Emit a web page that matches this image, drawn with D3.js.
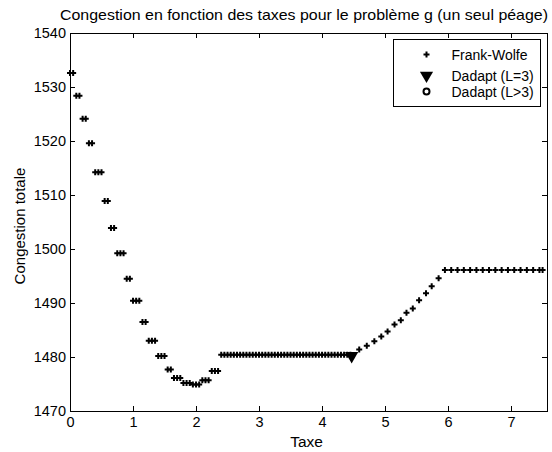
<!DOCTYPE html>
<html>
<head>
<meta charset="utf-8">
<script src="https://cdn.jsdelivr.net/npm/d3@7"></script>
<style>
  body { margin: 0; background: #fff; }
  svg { display: block; font-family: "Liberation Sans", Arial, sans-serif; }
  .axis path, .axis line { stroke: #000; stroke-width: 1; shape-rendering: crispEdges; }
  .axis text { fill: #000; font-size: 14.5px; }
</style>
</head>
<body>
<div id="chart"></div>
<script>
// Frank-Wolfe: taxe / congestion totale
const fwTax = [
    0.00, 0.05, 0.10, 0.15, 0.20, 0.25, 0.30, 0.35, 0.40, 0.45, 0.50,
    0.55, 0.60, 0.65, 0.70, 0.75, 0.80, 0.85, 0.90, 0.95, 1.00, 1.05, 1.10,
    1.15, 1.20, 1.25, 1.30, 1.35, 1.40, 1.45, 1.50, 1.55, 1.60, 1.65, 1.70, 1.75,
    1.80, 1.85, 1.90, 1.95, 2.00, 2.05, 2.10, 2.15, 2.20, 2.25, 2.30, 2.35,
    2.40, 2.45, 2.50, 2.55, 2.60, 2.65, 2.70, 2.75, 2.80, 2.85, 2.90, 2.95,
    3.00, 3.05, 3.10, 3.15, 3.20, 3.25, 3.30, 3.35, 3.40, 3.45, 3.50, 3.55,
    3.60, 3.65, 3.70, 3.75, 3.80, 3.85, 3.90, 3.95, 4.00, 4.05, 4.10, 4.15,
    4.20, 4.25, 4.30, 4.35, 4.40, 4.45,
    4.59, 4.71, 4.83, 4.94, 5.04, 5.15, 5.25, 5.34, 5.44, 5.54, 5.65, 5.74, 5.85,
    5.95, 6.05, 6.15, 6.25, 6.35, 6.45, 6.55, 6.65, 6.75, 6.85, 6.95, 7.05,
    7.15, 7.25, 7.35, 7.45, 7.50
];
const fwCongestion = [
    1532.6, 1532.6, 1528.4, 1528.4, 1524.1, 1524.1, 1519.6, 1519.6, 1514.2, 1514.2, 1514.2,
    1508.9, 1508.9, 1503.9, 1503.9, 1499.2, 1499.2, 1499.2, 1494.5, 1494.5, 1490.4, 1490.4, 1490.4,
    1486.5, 1486.5, 1483.0, 1483.0, 1483.0, 1480.2, 1480.2, 1480.2, 1477.7, 1477.7, 1476.1, 1476.1, 1476.1,
    1475.2, 1475.2, 1475.2, 1474.9, 1474.9, 1474.9, 1475.7, 1475.7, 1475.7, 1477.4, 1477.4, 1477.4,
    1480.4, 1480.4, 1480.4, 1480.4, 1480.4, 1480.4, 1480.4, 1480.4, 1480.4, 1480.4, 1480.4, 1480.4,
    1480.4, 1480.4, 1480.4, 1480.4, 1480.4, 1480.4, 1480.4, 1480.4, 1480.4, 1480.4, 1480.4, 1480.4,
    1480.4, 1480.4, 1480.4, 1480.4, 1480.4, 1480.4, 1480.4, 1480.4, 1480.4, 1480.4, 1480.4, 1480.4,
    1480.4, 1480.4, 1480.4, 1480.4, 1480.4, 1480.4,
    1481.4, 1482.1, 1482.9, 1483.8, 1484.7, 1486.0, 1486.8, 1488.2, 1489.0, 1490.5, 1491.8, 1493.1, 1494.6,
    1496.1, 1496.1, 1496.1, 1496.1, 1496.1, 1496.1, 1496.1, 1496.1, 1496.1, 1496.1, 1496.1, 1496.1,
    1496.1, 1496.1, 1496.1, 1496.1, 1496.1
];
// Dadapt (L=3)
const dadapt3Tax = [4.47];
const dadapt3Congestion = [1480.2];
// Dadapt (L>3): nothing visible on the figure
const dadaptMoreTax = [];
const dadaptMoreCongestion = [];

const xTicks = [0, 1, 2, 3, 4, 5, 6, 7];
const yTicks = [1470, 1480, 1490, 1500, 1510, 1520, 1530, 1540];
const legendLabels = ['Frank-Wolfe', 'Dadapt (L=3)', 'Dadapt (L>3)'];

const outerWidth = 552;
const outerHeight = 452;
const margin = { top: 33, left: 70, bottom: 41, right: 5 };
const innerWidth = outerWidth - margin.left - margin.right;
const innerHeight = outerHeight - margin.top - margin.bottom;

const xScale = d3.scaleLinear()
    .domain([0, 7.57])
    .range([0, innerWidth]);

const yScale = d3.scaleLinear()
    .domain([1470, 1540])
    .range([innerHeight, 0]);

const root = d3.select('#chart')
    .append('svg')
        .attr('width', outerWidth)
        .attr('height', outerHeight);

root.append('text')
    .attr('x', 304)
    .attr('y', 20)
    .attr('text-anchor', 'middle')
    .attr('textLength', 488)
    .attr('lengthAdjust', 'spacingAndGlyphs')
    .style('font-size', '15px')
    .text('Congestion en fonction des taxes pour le problème g (un seul péage)');

const svg = root.append('g')
    .attr('transform', `translate(${margin.left},${margin.top})`);

// axes, matlab style: ticks inside on all four sides
svg.append('g')
    .attr('class', 'axis')
    .attr('transform', `translate(0,${innerHeight})`)
    .call(d3.axisBottom(xScale).tickValues(xTicks).tickSize(-5).tickSizeOuter(0).tickPadding(6));

svg.append('g')
    .attr('class', 'axis')
    .call(d3.axisTop(xScale).tickValues(xTicks).tickSize(-5).tickSizeOuter(0))
    .selectAll('text').remove();

svg.append('g')
    .attr('class', 'axis')
    .call(d3.axisLeft(yScale).tickValues(yTicks).tickFormat(d3.format('d'))
        .tickSize(-5).tickSizeOuter(0).tickPadding(4));

svg.append('g')
    .attr('class', 'axis')
    .attr('transform', `translate(${innerWidth},0)`)
    .call(d3.axisRight(yScale).tickValues(yTicks).tickSize(-5).tickSizeOuter(0))
    .selectAll('text').remove();

svg.append('text')
    .attr('x', innerWidth / 2 - 2)
    .attr('y', innerHeight + 36)
    .attr('text-anchor', 'middle')
    .style('font-size', '15.5px')
    .text('Taxe');

svg.append('text')
    .attr('transform', `translate(${-45},${innerHeight / 2 + 4}) rotate(-90)`)
    .attr('text-anchor', 'middle')
    .style('font-size', '15px')
    .text('Congestion totale');

// markers
const plus = d3.symbol().type(d3.symbolCross).size(20);
const tri = d3.symbol().type(d3.symbolTriangle).size(75);

svg.selectAll('.fw')
    .data(fwTax)
    .join('path')
        .classed('fw', true)
        .attr('d', plus)
        .attr('transform', (d, i) => `translate(${xScale(d)},${yScale(fwCongestion[i])})`)
        .attr('fill', '#000');

svg.selectAll('.dmore')
    .data(dadaptMoreTax)
    .join('circle')
        .classed('dmore', true)
        .attr('cx', d => xScale(d))
        .attr('cy', (d, i) => yScale(dadaptMoreCongestion[i]))
        .attr('r', 3)
        .attr('fill', 'none')
        .attr('stroke', '#000')
        .attr('stroke-width', 2);

svg.selectAll('.d3')
    .data(dadapt3Tax)
    .join('path')
        .classed('d3', true)
        .attr('d', tri)
        .attr('transform', (d, i) => `translate(${xScale(d)},${yScale(dadapt3Congestion[i])}) rotate(180)`)
        .attr('fill', '#000');

// legend
const legend = root.append('g')
    .attr('transform', 'translate(393.5,39.5)');

legend.append('rect')
    .attr('width', 147)
    .attr('height', 67)
    .attr('fill', '#fff')
    .attr('stroke', '#000');

const rows = legend.selectAll('.row')
    .data(legendLabels)
    .join('g')
        .classed('row', true)
        .attr('transform', (d, i) => `translate(0,${[15, 36, 52][i]})`);

rows.append('text')
    .attr('x', 58)
    .attr('y', 5)
    .style('font-size', '14px')
    .text(d => d);

rows.filter((d, i) => i === 0).append('path')
    .attr('d', plus)
    .attr('transform', 'translate(33,0)');

rows.filter((d, i) => i === 1).append('path')
    .attr('d', tri)
    .attr('transform', 'translate(33,0) rotate(180)');

rows.filter((d, i) => i === 2).append('circle')
    .attr('cx', 33)
    .attr('r', 3)
    .attr('fill', 'none')
    .attr('stroke', '#000')
    .attr('stroke-width', 2);
</script>
</body>
</html>
